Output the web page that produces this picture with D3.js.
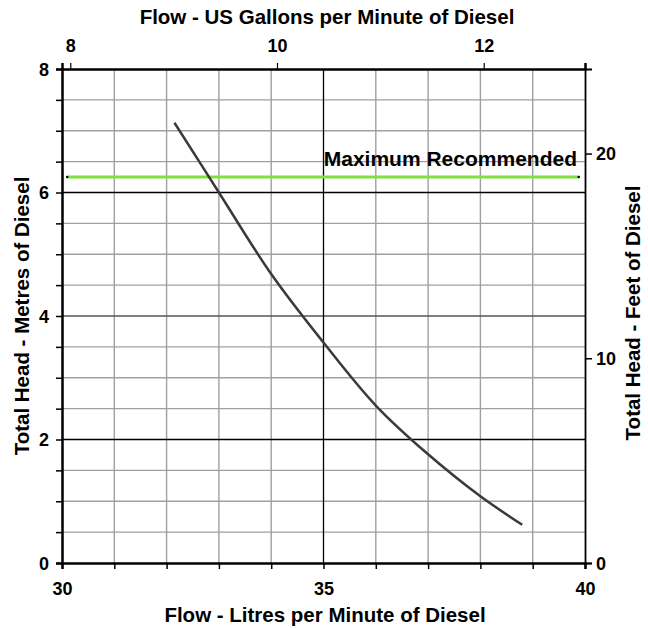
<!DOCTYPE html>
<html><head><meta charset="utf-8">
<script src="https://cdn.jsdelivr.net/npm/d3@7"></script>
<style>body{margin:0;background:#fff}svg{display:block}text{font-family:"Liberation Sans",Arial,sans-serif;font-weight:bold;fill:#000}</style>
</head><body><svg id="c" width="648" height="628"></svg>
<script>
// Data
const flowLitres = [32.15, 33, 34, 35, 36, 37, 38, 38.8];
const headMetres = [7.13, 6.0, 4.68, 3.57, 2.55, 1.76, 1.08, 0.62];
const maxRecommended = 6.25;
const maxRecFlowRange = [30.1, 39.88];
const bottomTicks = [30, 35, 40];
const leftTicks = [0, 2, 4, 6, 8];
const topTicks = [8, 10, 12];
const rightTicks = [0, 10, 20];
const topDomain = [7.92, 12.98];
const rightDomain = [0, 24.13];

(function(){
const svg = d3.select("#c");
const L = 62, R = 585, T = 69, B = 563;
const x = d3.scaleLinear().domain([30, 40]).range([L, R]);
const y = d3.scaleLinear().domain([0, 8]).range([B, T]);
const xTop = d3.scaleLinear().domain(topDomain).range([L, R]);
const yRight = d3.scaleLinear().domain(rightDomain).range([B, T]);
const TICK_FS = 18, TITLE_FS = 20.5;

// minor grid
const g = svg.append("g");
d3.range(31, 40).filter(v => v !== 35).forEach(v => {
  g.append("line").attr("x1", x(v)).attr("x2", x(v)).attr("y1", T).attr("y2", B)
   .attr("stroke", "#a0a0a0").attr("stroke-width", 1.4);
});
d3.range(0.5, 8, 0.5).filter(v => v % 2 !== 0).forEach(v => {
  g.append("line").attr("x1", L).attr("x2", R).attr("y1", y(v)).attr("y2", y(v))
   .attr("stroke", "#a0a0a0").attr("stroke-width", 1.4);
});
// major grid
[2, 6].forEach(v => g.append("line").attr("x1", L).attr("x2", R).attr("y1", y(v)).attr("y2", y(v)).attr("stroke", "#000").attr("stroke-width", 1.3));
g.append("line").attr("x1", L).attr("x2", R).attr("y1", y(4)).attr("y2", y(4)).attr("stroke", "#555").attr("stroke-width", 1.6);
g.append("line").attr("x1", x(35)).attr("x2", x(35)).attr("y1", T).attr("y2", B).attr("stroke", "#000").attr("stroke-width", 1.3);

// axes
const axB = svg.append("g").attr("transform", `translate(0,${B})`)
  .call(d3.axisBottom(x).tickValues(d3.range(30, 41)).tickSize(6).tickFormat(d => bottomTicks.includes(d) ? d : ""));
axB.select(".domain").attr("stroke-width", 2.5);
axB.selectAll(".tick line").attr("stroke-width", 1.5);
axB.selectAll("text").attr("y", 32).attr("dy", 0);

const axL = svg.append("g").attr("transform", `translate(${L},0)`)
  .call(d3.axisLeft(y).tickValues(d3.range(0, 8.01, 0.5)).tickSize(6).tickFormat(d => leftTicks.includes(d) ? d : ""));
axL.select(".domain").attr("stroke-width", 2.5);
axL.selectAll(".tick line").attr("stroke-width", 1.5);
axL.selectAll("text").attr("x", -13).attr("dy", "0.35em");

const axT = svg.append("g").attr("transform", `translate(0,${T})`)
  .call(d3.axisTop(xTop).tickValues(topTicks).tickSize(6).tickFormat(d3.format("d")));
axT.select(".domain").attr("stroke-width", 2.5);
axT.selectAll(".tick line").attr("stroke-width", 1.2);
axT.selectAll("text").attr("y", -17).attr("dy", 0);

const axR = svg.append("g").attr("transform", `translate(${R},0)`)
  .call(d3.axisRight(yRight).tickValues(rightTicks).tickSize(7).tickFormat(d3.format("d")));
axR.select(".domain").attr("stroke-width", 1.8);
axR.selectAll(".tick line").attr("stroke-width", 1.5);
axR.selectAll("text").attr("x", 11).attr("dy", "0.35em");

svg.selectAll(".domain").attr("stroke", "#000");
svg.selectAll(".tick line").attr("stroke", "#000");
svg.selectAll(".tick text").attr("fill", "#000").attr("font-size", TICK_FS)
  .attr("font-family", "Liberation Sans, Arial, sans-serif").attr("font-weight", "bold");

// max recommended line
svg.append("line").attr("x1", x(maxRecFlowRange[0])).attr("x2", x(maxRecFlowRange[1]))
  .attr("y1", y(maxRecommended)).attr("y2", y(maxRecommended))
  .attr("stroke", "#80e040").attr("stroke-width", 3);
maxRecFlowRange.forEach(v => svg.append("circle").attr("cx", x(v)).attr("cy", y(maxRecommended)).attr("r", 1.3).attr("fill", "#000"));
svg.append("text").attr("x", 577).attr("y", y(maxRecommended) - 11)
  .attr("text-anchor", "end").attr("font-size", 21).text("Maximum Recommended");

// curve
const pts = flowLitres.map((f, i) => [f, headMetres[i]]);
svg.append("path").datum(pts)
  .attr("d", d3.line().x(d => x(d[0])).y(d => y(d[1])).curve(d3.curveCatmullRom.alpha(0.5)))
  .attr("fill", "none").attr("stroke", "#3a3a3a").attr("stroke-width", 2.5);

// titles
svg.append("text").attr("x", 327).attr("y", 24).attr("text-anchor", "middle").attr("font-size", TITLE_FS)
  .text("Flow - US Gallons per Minute of Diesel");
svg.append("text").attr("x", 325).attr("y", 622).attr("text-anchor", "middle").attr("font-size", TITLE_FS)
  .text("Flow - Litres per Minute of Diesel");
svg.append("text").attr("transform", `translate(29,${(T + B) / 2}) rotate(-90)`).attr("text-anchor", "middle").attr("font-size", TITLE_FS)
  .text("Total Head - Metres of Diesel");
svg.append("text").attr("transform", `translate(640,${(T + B) / 2 - 3}) rotate(-90)`).attr("text-anchor", "middle").attr("font-size", TITLE_FS)
  .text("Total Head - Feet of Diesel");
})();
</script></body></html>
